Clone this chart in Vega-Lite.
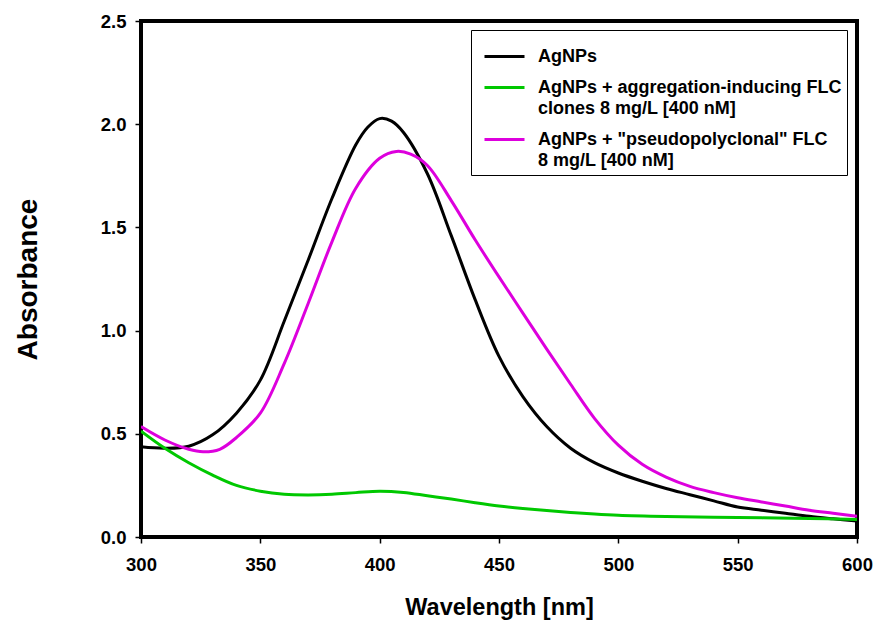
{
  "$schema": "https://vega.github.io/schema/vega-lite/v6.json",
  "width": 716,
  "height": 516,
  "autosize": "none",
  "padding": {"left": 141, "top": 21, "right": 19, "bottom": 87},
  "background": "white",
  "config": {
    "font": "Liberation Sans",
    "view": {"stroke": "black", "strokeWidth": 4}
  },
  "datasets": {
    "agnps": [
      {"w": 300, "a": 0.437}, {"w": 310, "a": 0.43}, {"w": 320, "a": 0.44}, {"w": 330, "a": 0.495},
      {"w": 340, "a": 0.6}, {"w": 350, "a": 0.76}, {"w": 360, "a": 1.045}, {"w": 370, "a": 1.34},
      {"w": 380, "a": 1.64}, {"w": 390, "a": 1.9}, {"w": 395, "a": 1.985}, {"w": 400, "a": 2.027},
      {"w": 405, "a": 2.015}, {"w": 410, "a": 1.96},
      {"w": 420, "a": 1.76}, {"w": 430, "a": 1.46}, {"w": 440, "a": 1.15}, {"w": 450, "a": 0.875},
      {"w": 460, "a": 0.68}, {"w": 470, "a": 0.535}, {"w": 480, "a": 0.43}, {"w": 490, "a": 0.36},
      {"w": 500, "a": 0.31}, {"w": 510, "a": 0.27}, {"w": 520, "a": 0.235}, {"w": 530, "a": 0.205},
      {"w": 540, "a": 0.175}, {"w": 550, "a": 0.145}, {"w": 560, "a": 0.13}, {"w": 570, "a": 0.115},
      {"w": 580, "a": 0.1}, {"w": 590, "a": 0.088}, {"w": 600, "a": 0.077}
    ],
    "agg": [
      {"w": 300, "a": 0.513}, {"w": 310, "a": 0.43}, {"w": 320, "a": 0.36}, {"w": 330, "a": 0.3},
      {"w": 340, "a": 0.25}, {"w": 350, "a": 0.222}, {"w": 360, "a": 0.207}, {"w": 370, "a": 0.204},
      {"w": 380, "a": 0.207}, {"w": 390, "a": 0.215}, {"w": 400, "a": 0.222}, {"w": 410, "a": 0.216},
      {"w": 420, "a": 0.2}, {"w": 430, "a": 0.184}, {"w": 440, "a": 0.166}, {"w": 450, "a": 0.15},
      {"w": 460, "a": 0.138}, {"w": 470, "a": 0.128}, {"w": 480, "a": 0.119}, {"w": 490, "a": 0.111},
      {"w": 500, "a": 0.105}, {"w": 520, "a": 0.099}, {"w": 550, "a": 0.094}, {"w": 580, "a": 0.09},
      {"w": 600, "a": 0.085}
    ],
    "pseudo": [
      {"w": 300, "a": 0.535}, {"w": 310, "a": 0.47}, {"w": 320, "a": 0.425}, {"w": 326, "a": 0.413},
      {"w": 333, "a": 0.425}, {"w": 340, "a": 0.482}, {"w": 350, "a": 0.6}, {"w": 360, "a": 0.84},
      {"w": 370, "a": 1.13}, {"w": 380, "a": 1.43}, {"w": 390, "a": 1.69}, {"w": 400, "a": 1.835},
      {"w": 407, "a": 1.868}, {"w": 413, "a": 1.855}, {"w": 420, "a": 1.8}, {"w": 430, "a": 1.63},
      {"w": 440, "a": 1.44}, {"w": 450, "a": 1.26}, {"w": 460, "a": 1.085}, {"w": 470, "a": 0.91},
      {"w": 480, "a": 0.74}, {"w": 490, "a": 0.575}, {"w": 500, "a": 0.445}, {"w": 510, "a": 0.352},
      {"w": 520, "a": 0.29}, {"w": 530, "a": 0.245}, {"w": 540, "a": 0.215}, {"w": 550, "a": 0.19},
      {"w": 560, "a": 0.17}, {"w": 570, "a": 0.15}, {"w": 580, "a": 0.13}, {"w": 590, "a": 0.115},
      {"w": 600, "a": 0.1}
    ]
  },
  "layer": [
    {
      "data": {"name": "agnps"},
      "transform": [{"calculate": "'AgNPs'", "as": "s"}],
      "mark": {"type": "line", "interpolate": "catmull-rom", "strokeWidth": 3, "clip": true},
      "encoding": {
        "x": {"field": "w", "type": "quantitative"},
        "y": {"field": "a", "type": "quantitative"},
        "color": {"field": "s", "type": "nominal"}
      }
    },
    {
      "data": {"name": "agg"},
      "transform": [{"calculate": "'AgNPs + aggregation-inducing FLC|clones 8 mg/L [400 nM]'", "as": "s"}],
      "mark": {"type": "line", "interpolate": "catmull-rom", "strokeWidth": 3, "clip": true},
      "encoding": {
        "x": {"field": "w", "type": "quantitative"},
        "y": {"field": "a", "type": "quantitative"},
        "color": {"field": "s", "type": "nominal"}
      }
    },
    {
      "data": {"name": "pseudo"},
      "transform": [{"calculate": "'AgNPs + \"pseudopolyclonal\" FLC|8 mg/L [400 nM]'", "as": "s"}],
      "mark": {"type": "line", "interpolate": "catmull-rom", "strokeWidth": 3, "clip": true},
      "encoding": {
        "x": {
          "field": "w", "type": "quantitative",
          "scale": {"domain": [300, 600], "nice": false, "zero": false},
          "axis": {
            "title": "Wavelength [nm]", "values": [300, 350, 400, 450, 500, 550, 600],
            "grid": false, "domain": false, "tickColor": "black", "tickSize": 6, "tickWidth": 1.5,
            "labelFont": "Liberation Sans", "labelFontWeight": "bold", "labelFontSize": 18.5, "labelColor": "black",
            "labelPadding": 12, "labelFlush": false,
            "titleFont": "Liberation Sans", "titleFontWeight": "bold", "titleFontSize": 23.5, "titleColor": "black",
            "titlePadding": 22
          }
        },
        "y": {
          "field": "a", "type": "quantitative",
          "scale": {"domain": [0, 2.5], "nice": false},
          "axis": {
            "title": "Absorbance", "values": [0, 0.5, 1, 1.5, 2, 2.5], "format": ".1f",
            "grid": false, "domain": false, "tickColor": "black", "tickSize": 6, "tickWidth": 1.5,
            "labelFont": "Liberation Sans", "labelFontWeight": "bold", "labelFontSize": 18.5, "labelColor": "black",
            "labelPadding": 9, "labelFlush": false,
            "titleFont": "Liberation Sans", "titleFontWeight": "bold", "titleFontSize": 28, "titleColor": "black",
            "titlePadding": 58
          }
        },
        "color": {
          "field": "s", "type": "nominal",
          "scale": {
            "domain": ["AgNPs", "AgNPs + aggregation-inducing FLC|clones 8 mg/L [400 nM]", "AgNPs + \"pseudopolyclonal\" FLC|8 mg/L [400 nM]"],
            "range": ["#000000", "#00c800", "#dd00dd"]
          },
          "legend": {
            "title": null, "orient": "none", "legendX": 330, "legendY": 9,
            "strokeColor": "black", "fillColor": "white", "padding": 5, "symbolOffset": 7,
            "symbolType": "stroke", "symbolSize": 1600, "symbolStrokeWidth": 3,
            "labelExpr": "split(datum.label, '|')",
            "labelFont": "Liberation Sans", "labelFontWeight": "bold", "labelFontSize": 18, "labelColor": "black",
            "labelLimit": 400, "labelOffset": 12, "rowPadding": -8,
            "encode": {"labels": {"update": {"lineHeight": {"value": 21}}}}
          }
        }
      }
    }
  ]
}
